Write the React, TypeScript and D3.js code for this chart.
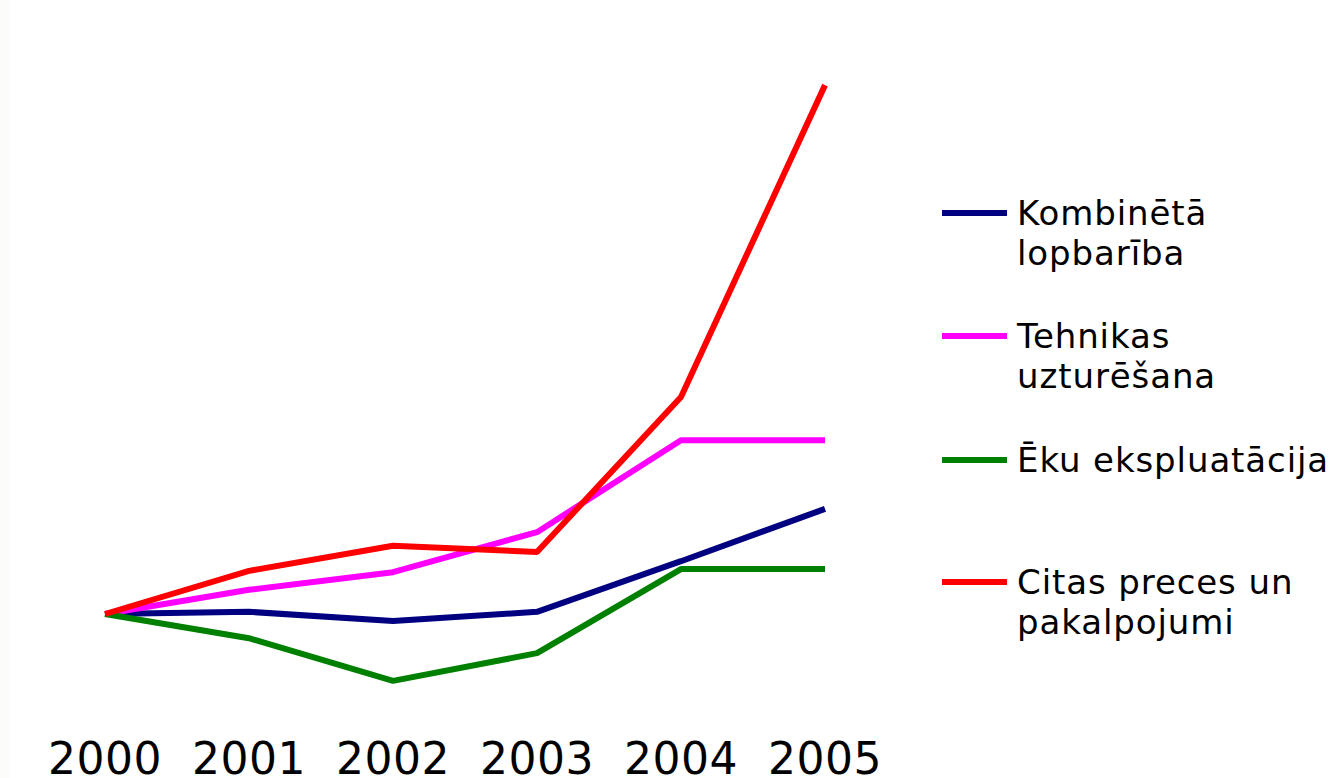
import React, { useEffect, useRef } from 'react';
import * as d3 from 'd3';

const years = ['2000', '2001', '2002', '2003', '2004', '2005'];

const seriesNames = [
  ['Kombinētā', 'lopbarība'],
  ['Tehnikas', 'uzturēšana'],
  ['Ēku ekspluatācija'],
  ['Citas preces un', 'pakalpojumi'],
];
const seriesColors = ['#000080', '#ff00ff', '#008000', '#ff0000'];

const kombineta = [100, 100.5, 98.4, 100.5, 112.0, 123.9];
const tehnika = [100, 105.5, 109.5, 118.6, 139.5, 139.5];
const ekas = [100, 94.5, 84.8, 91.1, 110.2, 110.2];
const citas = [100, 109.8, 115.5, 114.1, 149.3, 220.2];

const seriesValues = [kombineta, tehnika, ekas, citas];

const App = () => {
  const svgRef = useRef<SVGSVGElement>(null);

  useEffect(() => {
    document.body.style.margin = '0';
    const svg = d3.select(svgRef.current);
    svg.selectAll('*').remove();

    const width = 1337;
    const height = 778;
    const font = '"DejaVu Sans", Verdana, sans-serif';

    svg.attr('width', width).attr('height', height);

    svg.append('rect').attr('width', width).attr('height', height).attr('fill', '#fff');
    svg.append('rect').attr('width', 10).attr('height', height).attr('fill', '#fcfcfa');

    const x = d3.scalePoint<string>().domain(years).range([105, 825]);
    const y = d3.scaleLinear().domain([80, 230]).range([702, 42]);

    const line = d3.line<number>()
      .x((d, i) => x(years[i]) as number)
      .y(d => y(d));

    // linijas
    svg.selectAll('.series')
      .data(seriesValues)
      .enter()
      .append('path')
      .attr('class', 'series')
      .attr('d', d => line(d))
      .attr('fill', 'none')
      .attr('stroke', (d, i) => seriesColors[i])
      .attr('stroke-width', 6)
      .attr('stroke-linejoin', 'bevel');

    // gadi
    svg.selectAll('.year')
      .data(years)
      .enter()
      .append('text')
      .attr('class', 'year')
      .attr('x', d => x(d) as number)
      .attr('y', 774)
      .attr('text-anchor', 'middle')
      .style('font-family', font)
      .style('font-size', '44px')
      .style('letter-spacing', '0.5px')
      .attr('fill', '#000')
      .text(d => d);

    // legenda
    const legendY = [213, 336, 460, 582];
    const legend = svg.selectAll('.legend')
      .data(seriesNames)
      .enter()
      .append('g')
      .attr('class', 'legend')
      .attr('transform', (d, i) => `translate(0,${legendY[i]})`);

    legend.append('line')
      .attr('x1', 942)
      .attr('x2', 1007)
      .attr('stroke', (d, i) => seriesColors[i])
      .attr('stroke-width', 6);

    legend.append('text')
      .attr('x', 1017)
      .attr('y', 12)
      .style('font-family', font)
      .style('font-size', '34px')
      .style('letter-spacing', '0.9px')
      .attr('fill', '#000')
      .selectAll('tspan')
      .data(d => d)
      .enter()
      .append('tspan')
      .attr('x', 1017)
      .attr('dy', (d, i) => (i === 0 ? 0 : 40))
      .text(d => d);
  }, []);

  return <svg ref={svgRef} style={{ display: 'block' }}></svg>;
};

export default App;
